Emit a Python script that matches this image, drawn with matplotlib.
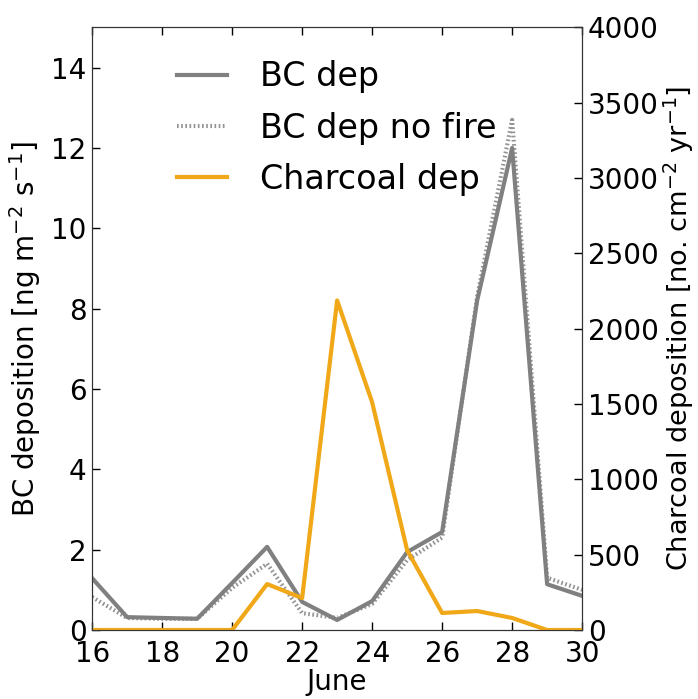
import matplotlib
matplotlib.use("Agg")
import matplotlib.pyplot as plt

days = [16, 17, 18, 19, 20, 21, 22, 23, 24, 25, 26, 27, 28, 29, 30]
bc_dep = [1.29, 0.32, 0.30, 0.28, 1.17, 2.07, 0.70, 0.25, 0.72, 1.94, 2.44, 8.2, 12.0, 1.14, 0.85]
bc_dep_nofire = [0.82, 0.30, 0.28, 0.28, 1.05, 1.65, 0.42, 0.30, 0.65, 1.74, 2.30, 8.3, 12.7, 1.30, 1.0]
charcoal_dep = [0, 0, 0, 0, 0, 305, 212, 2188, 1512, 530, 113, 126, 80, 0, 0]

gray = "#808080"
orange = "#F0A818"

fig = plt.figure(figsize=(6.98, 6.99), dpi=100)
ax = fig.add_axes([0.132, 0.0987, 0.702, 0.862])
ax2 = ax.twinx()

l1, = ax.plot(days, bc_dep, color=gray, lw=3, label="BC dep")
l2, = ax.plot(days, bc_dep_nofire, color=gray, lw=3, ls=(0, (0.4, 0.6)), alpha=0.85, label="BC dep no fire")
l3, = ax2.plot(days, charcoal_dep, color=orange, lw=3, label="Charcoal dep")

ax.set_xlim(16, 30)
ax.set_ylim(0, 15)
ax2.set_ylim(0, 4000)
ax.set_xticks(range(16, 31, 2))
ax.set_yticks(range(0, 15, 2))
ax2.set_yticks(range(0, 4001, 500))

for a in (ax, ax2):
    a.tick_params(direction="in", length=6, width=1, labelsize=20, pad=4)
ax.tick_params(axis="x", top=True, pad=7)
for s in ax.spines.values():
    s.set_color("#333333")
for s in ax2.spines.values():
    s.set_color("#333333")

ax.set_xlabel("June", fontsize=20, labelpad=0)
ax.set_ylabel("BC deposition [ng m$^{-2}$ s$^{-1}$]", fontsize=20, labelpad=6)
ax2.set_ylabel("Charcoal deposition [no. cm$^{-2}$ yr$^{-1}$]", fontsize=19.5, labelpad=2)

ax.legend(handles=[l1, l2, l3], loc="upper left", bbox_to_anchor=(0.112, 0.995),
          frameon=False, fontsize=24, handlelength=1.5, handletextpad=1.0, labelspacing=0.55)

fig.savefig("out.png", dpi=100)
